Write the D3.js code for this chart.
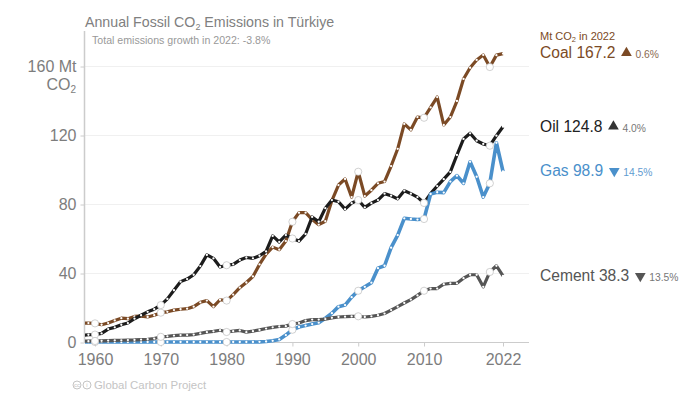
<!DOCTYPE html>
<html>
<head>
<meta charset="utf-8">
<script src="https://cdn.jsdelivr.net/npm/d3@7/dist/d3.min.js"></script>
<style>
  body { margin: 0; background: #fff; }
  text { font-family: "Liberation Sans", sans-serif; }
</style>
</head>
<body>
<div id="chart"></div>
<script>
// values, Mt CO2 per year, 1958 to 2022
var firstYear = 1958;
var coal = [11, 11, 10.8, 10, 11, 12.5, 13.8, 13.5, 14.8, 15, 14.5, 15.5, 17, 17.5, 18.5, 19, 19.3, 20.5, 23, 24, 20.5, 24.5, 24, 27.5, 31.5, 34.5, 38, 45, 51, 55, 53.5, 58.5, 69.7, 75, 75, 71, 68, 70, 82, 91, 94.5, 84, 98.7, 84.6, 88, 92, 93, 102, 112, 126.4, 123, 130.4, 130, 136, 142, 125.8, 130.4, 139.7, 152.5, 159, 163.5, 166.4, 159.4, 166.3, 167.2];
var oil = [3.8, 4.2, 4.3, 5, 7.5, 8.5, 10, 11, 13.5, 15.5, 17.5, 19, 21.4, 25, 30, 35, 36.5, 39, 44, 50.5, 48.5, 43.5, 44.5, 45, 47.5, 49, 48.5, 50, 52.5, 61.5, 58, 62, 60, 58.5, 62.6, 72.5, 69.7, 77.6, 82.3, 81.3, 77, 80.5, 82.3, 78, 80.5, 82.3, 86, 84.8, 83, 87.7, 86, 84, 80.6, 86, 90.4, 94.4, 98.6, 108.4, 117.7, 121, 116.7, 114.8, 113.8, 119.6, 124.8];
var gas = [0, 0, 0, 0, 0, 0, 0, 0, 0, 0, 0, 0, 0, 0, 0, 0, 0, 0, 0, 0, 0, 0, 0, 0, 0, 0, 0, 0.1, 0.3, 0.7, 1.5, 4, 7.1, 8.7, 9.5, 10.4, 11.2, 13.8, 16.7, 20.5, 21.4, 26, 29.7, 32, 34.4, 42.8, 44.2, 54.7, 62, 71.7, 71.3, 71, 71.3, 85.8, 86.8, 86.6, 93, 96.4, 92, 104.5, 95.8, 84, 92, 115.5, 98.9];
var cement = [0.5, 0.5, 0.6, 0.7, 0.8, 0.9, 1, 1.1, 1.2, 1.4, 1.6, 2, 3, 3.3, 3.7, 4, 4, 4.3, 5, 5.7, 6.2, 6.8, 5.8, 6.3, 6.7, 5.7, 6.3, 7, 7.8, 8.5, 9, 9.2, 10.4, 11, 12.4, 13, 13, 13.3, 14, 14.5, 14.7, 14.8, 14.9, 14.5, 14.9, 15.5, 16.5, 18.5, 20.5, 22.6, 24.6, 27, 29.7, 31, 31, 33.5, 34, 34, 37, 39, 39, 32, 40.6, 44.2, 38.3];

var yTicks = [0, 40, 80, 120, 160];
var xTicks = [1960, 1970, 1980, 1990, 2000, 2010, 2022];
var seriesNames = ["Coal", "Oil", "Gas", "Cement"];
var seriesValues = [coal, oil, gas, cement];
var seriesColours = ["#7b4a25", "#1c1c1c", "#4a90cb", "#555555"];
var labelValues = ["167.2", "124.8", "98.9", "38.3"];
var labelGrowth = ["0.6%", "4.0%", "14.5%", "13.5%"];
var labelUp = [true, true, false, false];

var setWidth = 700;
var setHeight = 394;

var svg = d3.select("#chart")
    .append("svg")
    .attr("width", setWidth)
    .attr("height", setHeight)
    .style("display", "block");

// scales
var x = d3.scaleLinear().domain([1960, 2022]).range([95, 503]);
var y = d3.scaleLinear().domain([0, 160]).range([342, 66]);

// clip so the lines stop at the y axis
svg.append("clipPath").attr("id", "plot")
    .append("rect")
    .attr("x", 85).attr("y", 20)
    .attr("width", 445).attr("height", 335);

// grid
svg.append("g").selectAll("line")
    .data(yTicks.slice(1))
    .join("line")
    .attr("x1", 85).attr("x2", 529)
    .attr("y1", function (d) { return y(d) + 0.5; })
    .attr("y2", function (d) { return y(d) + 0.5; })
    .attr("stroke", "#f0f0f0");

// y axis
var yAxis = svg.append("g")
    .attr("transform", "translate(84.5,0.5)")
    .call(d3.axisLeft(y).tickValues(yTicks).tickSize(4).tickPadding(4)
        .tickFormat(function (d) { return d === 160 ? "160 Mt" : d; }));
yAxis.select(".domain").remove();
yAxis.selectAll("line").attr("stroke", "#cccccc");
yAxis.selectAll("text").attr("fill", "#7d7d7d").style("font-size", "16px").style("font-family", "Liberation Sans");
svg.append("line")
    .attr("x1", 84.5).attr("x2", 84.5).attr("y1", 31).attr("y2", 342)
    .attr("stroke", "#cccccc").attr("stroke-width", 1.5);

// the CO2 under 160 Mt
var yUnit = svg.append("text")
    .attr("x", 76).attr("y", 90)
    .attr("text-anchor", "end")
    .attr("fill", "#7d7d7d")
    .style("font-size", "16px");
yUnit.append("tspan").text("CO");
yUnit.append("tspan").attr("dy", 3).style("font-size", "10px").text("2");

// x axis
var xAxis = svg.append("g")
    .attr("transform", "translate(0,342.5)")
    .call(d3.axisBottom(x).tickValues(xTicks).tickSize(4).tickPadding(7).tickFormat(d3.format("d")));
xAxis.select(".domain").remove();
xAxis.selectAll("line").attr("stroke", "#cccccc");
xAxis.selectAll("text").attr("fill", "#7d7d7d").style("font-size", "16px").style("font-family", "Liberation Sans");
svg.append("line")
    .attr("x1", 84).attr("x2", 529).attr("y1", 342.5).attr("y2", 342.5)
    .attr("stroke", "#cccccc").attr("stroke-width", 1.2);

// lines with a small dot per year and a bigger one per decade
var line = d3.line()
    .x(function (d, i) { return x(firstYear + i); })
    .y(function (d) { return y(d); });

var plot = svg.append("g").attr("clip-path", "url(#plot)");

seriesValues.forEach(function (values, s) {
    plot.append("path")
        .attr("d", line(values))
        .attr("fill", "none")
        .attr("stroke", seriesColours[s])
        .attr("stroke-width", s === 2 ? 3.6 : 3.2)
        .attr("stroke-linejoin", "round");

    var points = values.map(function (v, i) { return {year: firstYear + i, value: v}; });

    plot.append("g").selectAll("circle")
        .data(points)
        .join("circle")
        .attr("cx", function (d) { return x(d.year); })
        .attr("cy", function (d) { return y(d.value); })
        .attr("r", 1.15)
        .attr("fill", "#fff");
});

// decade markers go on top of everything
seriesValues.forEach(function (values, s) {
    var points = values
        .map(function (v, i) { return {year: firstYear + i, value: v}; })
        .filter(function (d) { return d.year % 10 === 0; });

    svg.append("g").selectAll("circle")
        .data(points)
        .join("circle")
        .attr("cx", function (d) { return x(d.year); })
        .attr("cy", function (d) { return y(d.value); })
        .attr("r", 3.6)
        .attr("fill", "#fff")
        .attr("stroke", "#bdbdbd")
        .attr("stroke-width", 0.7);
});

// title
var title = svg.append("text")
    .attr("x", 85).attr("y", 26.5)
    .attr("fill", "#808080")
    .style("font-size", "14.2px");
title.append("tspan").text("Annual Fossil CO");
title.append("tspan").attr("dy", 3).style("font-size", "9px").text("2");
title.append("tspan").attr("dy", -3).text(" Emissions in Türkiye");

svg.append("text")
    .attr("x", 92).attr("y", 44)
    .attr("fill", "#999")
    .style("font-size", "10.6px")
    .text("Total emissions growth in 2022: -3.8%");

// right hand labels
var unit = svg.append("text")
    .attr("x", 540).attr("y", 39.5)
    .attr("fill", seriesColours[0])
    .style("font-size", "11px");
unit.append("tspan").text("Mt CO");
unit.append("tspan").attr("dy", 2).style("font-size", "7.5px").text("2");
unit.append("tspan").attr("dy", -2).text(" in 2022");

var labelY = [58, 131.5, 176, 281];
var growthColours = ["#8a6a50", "#777", "#5f9bd0", "#777"];
var triangleColours = ["#7b4a25", "#333", "#4a90cb", "#555"];

seriesNames.forEach(function (name, s) {
    var label = svg.append("text")
        .attr("x", 540).attr("y", labelY[s])
        .attr("fill", s === 1 ? "#222" : seriesColours[s])
        .style("font-size", "15.6px")
        .text(name + " " + labelValues[s]);
    var end = 540 + label.node().getComputedTextLength();

    svg.append("path")
        .attr("d", d3.symbol(d3.symbolTriangle, 50)())
        .attr("transform", "translate(" + (end + 11) + "," + (labelY[s] - 5) + ")" + (labelUp[s] ? "" : " rotate(180)"))
        .attr("fill", triangleColours[s]);

    svg.append("text")
        .attr("x", end + 20).attr("y", labelY[s])
        .attr("fill", growthColours[s])
        .style("font-size", "10.3px")
        .text(labelGrowth[s]);
});

// footer
var footerColour = "#c4c4c4";
var badges = [{cx: 77, t: "cc"}, {cx: 87, t: "i"}];
svg.append("g").selectAll("circle")
    .data(badges)
    .join("circle")
    .attr("cx", function (d) { return d.cx; })
    .attr("cy", 385)
    .attr("r", 4)
    .attr("fill", "none")
    .attr("stroke", footerColour);
svg.append("g").selectAll("text")
    .data(badges)
    .join("text")
    .attr("x", function (d) { return d.cx; })
    .attr("y", 387)
    .attr("text-anchor", "middle")
    .attr("fill", footerColour)
    .style("font-size", "6px")
    .text(function (d) { return d.t; });
svg.append("text")
    .attr("x", 94).attr("y", 389)
    .attr("fill", footerColour)
    .style("font-size", "11.4px")
    .text("Global Carbon Project");
</script>
</body>
</html>
